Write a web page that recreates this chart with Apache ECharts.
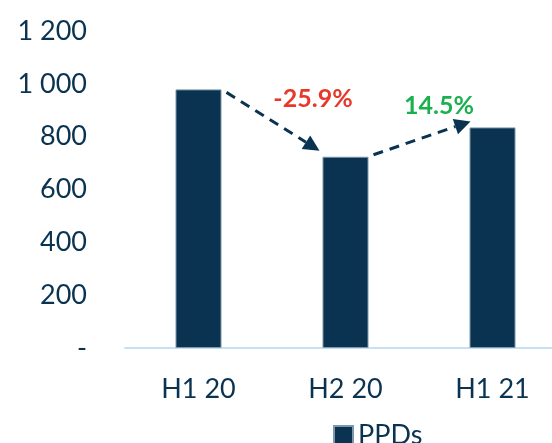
<!DOCTYPE html>
<html>
<head>
<meta charset="UTF-8">
<script src="https://cdn.jsdelivr.net/npm/echarts@6/dist/echarts.min.js"></script>
<style>
  body { margin: 0; background: #fff; }
  #main { width: 552px; height: 443px; }
</style>
</head>
<body>
<div id="main"></div>
<script>
var categories = ['H1 20', 'H2 20', 'H1 21'];
var ppds = [979, 724, 835];
var changes = ['-25.9%', '14.5%'];
var changeColors = ['#e8382b', '#1bb04f'];

var navy = '#0a3351';
var font = 'Lato';

var chart = echarts.init(document.getElementById('main'));
chart.setOption({
    animation: false,
    textStyle: { fontFamily: font },
    grid: { left: 125, width: 441, top: 31, bottom: 95, outerBoundsMode: 'none' },
    legend: {
        data: ['PPDs'],
        left: 328, top: 417,
        icon: 'rect', itemWidth: 19, itemHeight: 19, itemGap: 6,
        textStyle: { color: navy, fontSize: 27, fontFamily: font }
    },
    xAxis: {
        type: 'category',
        data: categories,
        axisLine: { lineStyle: { color: '#c6e0f4', width: 2 } },
        axisTick: { show: false },
        axisLabel: { color: navy, fontSize: 27, margin: 28 }
    },
    yAxis: {
        type: 'value',
        min: 0, max: 1200, interval: 200,
        splitLine: { show: false },
        axisLine: { show: false },
        axisLabel: {
            color: navy, fontSize: 27, margin: 38,
            formatter: function (v) {
                if (v === 0) return '-';
                return String(v).replace(/\B(?=(\d{3})+(?!\d))/g, ' ');
            }
        }
    },
    series: [{
        name: 'PPDs',
        type: 'bar',
        data: ppds,
        barWidth: 46,
        itemStyle: { color: navy, borderColor: '#7d97ab', borderWidth: 1 }
    }]
});

// dashed arrows between bar tops + change labels
function arrow(x1, y1, x2, y2) {
    var ang = Math.atan2(y2 - y1, x2 - x1);
    var hl = 16, hw = 8;
    var bx = x2 - hl * Math.cos(ang), by = y2 - hl * Math.sin(ang);
    var px = -Math.sin(ang) * hw, py = Math.cos(ang) * hw;
    return [
        { type: 'line', shape: { x1: x1, y1: y1, x2: bx, y2: by },
          style: { stroke: navy, lineWidth: 3, lineDash: [10, 7] } },
        { type: 'polygon', shape: { points: [[x2, y2], [bx + px, by + py], [bx - px, by - py]] },
          style: { fill: navy } }
    ];
}
var half = 23;
var tops = ppds.map(function (v, i) { return chart.convertToPixel({ seriesIndex: 0 }, [i, v]); });
var els = [];
els = els.concat(arrow(tops[0][0] + half + 5, tops[0][1] + 3, tops[1][0] - half - 3, tops[1][1] - 6));
els = els.concat(arrow(tops[1][0] + half + 5, tops[1][1] - 2, tops[2][0] - half + 1, tops[2][1] - 6));
els.push({ type: 'text', x: 313, y: 99,
    style: { text: changes[0], fill: changeColors[0], font: 'bold 25px ' + font, align: 'center', verticalAlign: 'middle' } });
els.push({ type: 'text', x: 439, y: 106,
    style: { text: changes[1], fill: changeColors[1], font: 'bold 25px ' + font, align: 'center', verticalAlign: 'middle' } });
chart.setOption({ graphic: els });
</script>
</body>
</html>
